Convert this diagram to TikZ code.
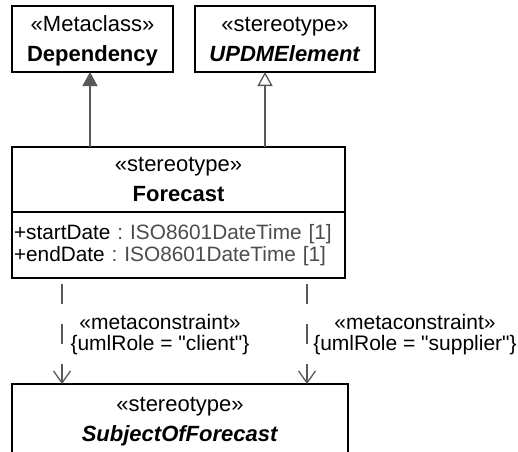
\documentclass[tikz,border=0pt]{standalone}
\usepackage{fontspec}
\setmainfont{Liberation Sans}[Ligatures=TeXOff]
\usetikzlibrary{arrows.meta,positioning}
\definecolor{LineClr}{rgb}{0.35,0.35,0.35}
\definecolor{TypeClr}{rgb}{0.3,0.3,0.3}
\frenchspacing

\begin{document}
\begin{tikzpicture}[x=1pt,y=-1pt,
  classbox/.style={draw=black,line width=1.3pt,fill=white,inner sep=0pt,outer sep=0pt,
    text depth=0pt,align=center,anchor=north west,font=\fontsize{22}{30}\selectfont},
  attrbox/.style={draw=black,line width=1.3pt,fill=white,inner sep=2pt,outer sep=0pt,
    align=left,anchor=north west,font=\fontsize{20.8}{22}\selectfont},
  genline/.style={draw=LineClr,line width=1.3pt},
  metaline/.style={draw=LineClr,line width=1.3pt,dash pattern=on 20pt off 20pt,dash phase=34pt,
    -{Straight Barb[length=12pt,width=17pt,line width=1.3pt]}},
  metalabel/.style={font=\fontsize{21}{21}\selectfont,align=center,inner sep=0pt}]
\useasboundingbox (0,0) rectangle (518,451);

% classes
\node[classbox,minimum width=161pt,minimum height=66pt] (dep) at (12,6)
  {«Metaclass»\\\textbf{Dependency}};
\node[classbox,minimum width=180pt,minimum height=66pt] (updm) at (195,6)
  {«stereotype»\\\textbf{\textit{UPDMElement}}};
\node[classbox,minimum width=333pt,minimum height=65pt] (forecast) at (12,147)
  {«stereotype»\\\textbf{Forecast}};
\node[attrbox,minimum width=333pt,minimum height=66pt,text width=329pt] (attrs) at (forecast.south west)
  {+startDate {\color{TypeClr}: ISO8601DateTime [1]}\\
   +endDate {\color{TypeClr}: ISO8601DateTime [1]}};
\node[classbox,minimum width=336pt,minimum height=70pt] (subj) at (12,384)
  {«stereotype»\\\textbf{\textit{SubjectOfForecast}}};

% generalizations
\coordinate (g1) at (90,147);
\coordinate (g2) at (265,147);
\draw[genline,-{Triangle[length=14pt,width=15pt,fill=LineClr]}] (g1) -- (g1 |- dep.south);
\draw[genline,-{Triangle[open,length=14pt,width=15pt,fill=white]}] (g2) -- (g2 |- updm.south);

% metaconstraints
\coordinate (m1) at (62,278);
\coordinate (m2) at (307,278);
\draw[metaline] (m1) -- (m1 |- subj.north);
\draw[metaline] (m2) -- (m2 |- subj.north);
\node[metalabel] (lab1) at (160,335) {«metaconstraint»\\\{umlRole = "client"\}};
\node[metalabel] (lab2) at (415,335) {«metaconstraint»\\\{umlRole = "supplier"\}};

\end{tikzpicture}
\end{document}
